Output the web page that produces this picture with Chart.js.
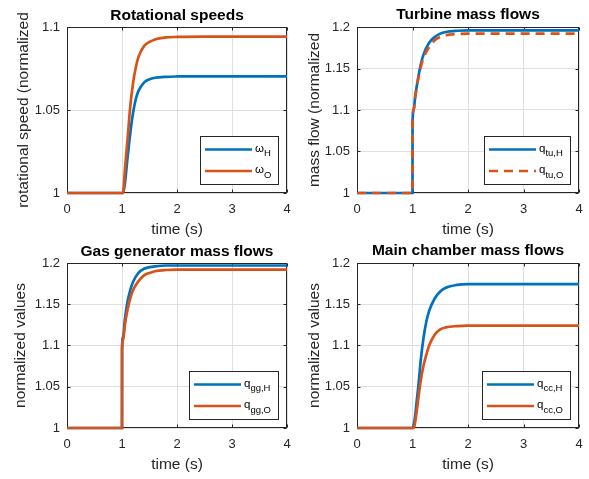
<!DOCTYPE html>
<html><head><meta charset="utf-8">
<script src="https://cdn.jsdelivr.net/npm/chart.js@4"></script>
<style>
html,body{margin:0;padding:0;background:#fff;}
#fig{position:relative;width:589px;height:479px;background:#fff;overflow:hidden}
canvas{position:absolute}
</style></head><body><div id="fig">
<canvas id="c1" width="295" height="240" style="left:0;top:0"></canvas>
<canvas id="c2" width="294" height="240" style="left:295px;top:0"></canvas>
<canvas id="c3" width="295" height="239" style="left:0;top:240px"></canvas>
<canvas id="c4" width="294" height="239" style="left:295px;top:240px"></canvas>
</div>
<script>
// ---------- data ----------
const xTicks = [0, 1, 2, 3, 4];
const yTicksSpeed = [1, 1.05, 1.1];
const yTicksFlow = [1, 1.05, 1.1, 1.15, 1.2];

const tSpeed = [0, 1, 1.02, 1.05, 1.1, 1.15, 1.2, 1.25, 1.3, 1.4, 1.5, 1.6, 1.8, 2, 2.5, 3, 4];
const omegaH = [1, 1, 1.0, 1.005, 1.021, 1.036, 1.048, 1.0565, 1.0615, 1.0665, 1.0685, 1.0694, 1.0700, 1.0702, 1.0703, 1.0703, 1.0703];
const omegaO = [1, 1, 1.0, 1.013, 1.032, 1.052, 1.066, 1.0755, 1.082, 1.0885, 1.091, 1.0925, 1.0937, 1.094, 1.0942, 1.0942, 1.0942];

const tTurb = [0, 1, 1.001, 1.02, 1.05, 1.1, 1.15, 1.2, 1.3, 1.4, 1.5, 1.6, 1.8, 2, 3, 4];
const qTuH = [1, 1, 1.085, 1.1, 1.117, 1.138, 1.155, 1.167, 1.181, 1.188, 1.192, 1.194, 1.1955, 1.196, 1.196, 1.196];
const qTuO = [1, 1, 1.085, 1.1, 1.116, 1.136, 1.152, 1.163, 1.176, 1.184, 1.188, 1.190, 1.1915, 1.192, 1.192, 1.192];

const tGg = [0, 1, 1.001, 1.02, 1.05, 1.1, 1.15, 1.2, 1.3, 1.4, 1.5, 1.6, 1.8, 2, 3, 4];
const qGgH = [1, 1, 1.097, 1.11, 1.13, 1.153, 1.167, 1.177, 1.188, 1.193, 1.195, 1.196, 1.197, 1.197, 1.197, 1.197];
const qGgO = [1, 1, 1.095, 1.106, 1.124, 1.143, 1.157, 1.167, 1.178, 1.185, 1.188, 1.190, 1.1915, 1.192, 1.192, 1.192];

const tCc = [0, 1, 1.025, 1.05, 1.075, 1.1, 1.15, 1.2, 1.25, 1.3, 1.4, 1.5, 1.6, 1.8, 2, 3, 4];
const qCcH = [1, 1, 1.005, 1.016, 1.032, 1.047, 1.083, 1.11, 1.129, 1.142, 1.157, 1.1655, 1.170, 1.1735, 1.1745, 1.1745, 1.1745];
const qCcO = [1, 1, 1.0, 1.008, 1.02, 1.033, 1.058, 1.076, 1.089, 1.100, 1.113, 1.1195, 1.122, 1.1235, 1.124, 1.124, 1.124];

const titles = ['Rotational speeds', 'Turbine mass flows', 'Gas generator mass flows', 'Main chamber mass flows'];
const yLabels = ['rotational speed (normalized', 'mass flow (normalized', 'normalized values', 'normalized values'];
const xLabel = 'time (s)';
const seriesNames = [['ω_H', 'ω_O'], ['q_tu,H', 'q_tu,O'], ['q_gg,H', 'q_gg,O'], ['q_cc,H', 'q_cc,O']];

// ---------- style ----------
const BLUE = '#0072BD', ORANGE = '#D95319', AXC = '#262626';
const FONT = '"Liberation Sans", Arial, Helvetica, sans-serif';

const pts = (t, v) => t.map((x, i) => ({x: x, y: v[i]}));

const boxPlugin = {
  id: 'mbox',
  beforeDatasetsDraw(chart) {
    const {ctx, chartArea: ca, scales: {x, y}} = chart;
    ctx.save();
    ctx.strokeStyle = AXC; ctx.lineWidth = 1;
    const L = Math.round(ca.left) + 0.5, R = Math.round(ca.right) - 0.5;
    const T = Math.round(ca.top) + 0.5, B = Math.round(ca.bottom) - 0.5;
    ctx.strokeRect(L, T, R - L, B - T);
    ctx.beginPath();
    x.ticks.forEach(tk => {
      const p = Math.round(x.getPixelForValue(tk.value)) + 0.5;
      ctx.moveTo(p, B); ctx.lineTo(p, B - 3);
      ctx.moveTo(p, T); ctx.lineTo(p, T + 3);
    });
    y.ticks.forEach(tk => {
      const p = Math.round(y.getPixelForValue(tk.value)) + 0.5;
      ctx.moveTo(L, p); ctx.lineTo(L + 3, p);
      ctx.moveTo(R, p); ctx.lineTo(R - 3, p);
    });
    ctx.stroke();
    ctx.restore();
  },
  afterDraw(chart, args, opts) {
    const {ctx, chartArea: ca} = chart;
    ctx.save();
    // title
    ctx.font = 'bold 15.5px ' + FONT;
    ctx.fillStyle = '#000'; ctx.textAlign = 'center'; ctx.textBaseline = 'middle';
    ctx.fillText(opts.title, (ca.left + ca.right) / 2, opts.titleY);
    // legend
    const mainFont = '11.5px ' + FONT, subFont = '9.5px ' + FONT;
    const items = chart.data.datasets.map(d => {
      const parts = d.label.split('_');
      return {d: d, main: parts[0], sub: parts[1] || ''};
    });
    let maxW = 0;
    items.forEach(it => {
      ctx.font = mainFont; let w = ctx.measureText(it.main).width;
      ctx.font = subFont; w += ctx.measureText(it.sub).width;
      maxW = Math.max(maxW, w);
    });
    const lineLen = 47, w = Math.round(5 + lineLen + 3 + maxW + 7), h = 48;
    const x0 = Math.round(ca.right - 9 - w), y0 = Math.round(ca.bottom - 9 - h);
    ctx.fillStyle = '#fff'; ctx.fillRect(x0, y0, w, h);
    ctx.strokeStyle = AXC; ctx.lineWidth = 1;
    ctx.strokeRect(x0 + 0.5, y0 + 0.5, w, h);
    items.forEach((it, i) => {
      const yy = y0 + 13.5 + i * 21.5;
      ctx.beginPath();
      ctx.setLineDash(it.d.borderDash || []);
      ctx.strokeStyle = it.d.borderColor; ctx.lineWidth = it.d.borderWidth;
      ctx.moveTo(x0 + 5, yy); ctx.lineTo(x0 + 5 + lineLen, yy); ctx.stroke();
      ctx.setLineDash([]);
      ctx.fillStyle = '#000'; ctx.textAlign = 'left'; ctx.textBaseline = 'middle';
      const tx = x0 + 5 + lineLen + 3;
      ctx.font = mainFont; ctx.fillText(it.main, tx, yy - 1);
      const mw = ctx.measureText(it.main).width;
      ctx.font = subFont; ctx.fillText(it.sub, tx + mw, yy + 4);
    });
    ctx.restore();
  }
};

function makeChart(id, cfg) {
  const datasets = cfg.series.map((s, i) => ({
    label: s.name,
    data: pts(s.t, s.v),
    borderColor: s.color,
    borderWidth: 2.7,
    borderDash: s.dash || [],
    pointRadius: 0,
    fill: false,
    cubicInterpolationMode: 'monotone',
    clip: false,
    order: cfg.series.length - i
  }));
  return new Chart(document.getElementById(id), {
    type: 'line',
    data: {datasets: datasets},
    plugins: [boxPlugin],
    options: {
      responsive: false, animation: false, devicePixelRatio: 1,
      layout: {padding: {top: cfg.padTop, right: cfg.padRight, left: 0, bottom: 0}},
      plugins: {legend: {display: false}, tooltip: {enabled: false},
        mbox: {title: cfg.title, titleY: cfg.titleY}},
      scales: {
        x: {
          type: 'linear', min: 0, max: 4,
          afterBuildTicks: sc => { sc.ticks = xTicks.map(v => ({value: v})); },
          afterFit: sc => { sc.height = cfg.xAxisH; },
          ticks: {color: AXC, font: {family: FONT, size: 13}, padding: 0, maxRotation: 0,
            callback: v => String(v)},
          grid: {color: '#dfdfdf', lineWidth: 1, drawTicks: true, tickLength: 9,
            tickColor: 'rgba(0,0,0,0)'},
          border: {display: false},
          title: {display: true, text: xLabel, color: AXC, font: {family: FONT, size: 15.5},
            padding: {top: 0, bottom: cfg.xLabelPad}}
        },
        y: {
          type: 'linear', min: 1, max: cfg.yMax,
          afterBuildTicks: sc => { sc.ticks = cfg.yTicks.map(v => ({value: v})); },
          afterFit: sc => { sc.width = cfg.yAxisW; },
          ticks: {color: AXC, font: {family: FONT, size: 13}, padding: 7,
            callback: v => String(Math.round(v * 100) / 100)},
          grid: {color: '#dfdfdf', lineWidth: 1, drawTicks: false},
          border: {display: false},
          title: {display: true, text: cfg.yLabel, color: AXC, font: {family: FONT, size: 15.5},
            padding: {top: cfg.yLabelPad, bottom: 0}}
        }
      }
    }
  });
}

makeChart('c1', {
  title: titles[0], titleY: 16, yLabel: yLabels[0], yMax: 1.1, yTicks: yTicksSpeed,
  padTop: 27, padRight: 8, yAxisW: 67, xAxisH: 47, xLabelPad: 1, yLabelPad: 14,
  series: [
    {name: seriesNames[0][0], t: tSpeed, v: omegaH, color: BLUE},
    {name: seriesNames[0][1], t: tSpeed, v: omegaO, color: ORANGE}
  ]
});
makeChart('c2', {
  title: titles[1], titleY: 15, yLabel: yLabels[1], yMax: 1.2, yTicks: yTicksFlow,
  padTop: 27, padRight: 10, yAxisW: 62, xAxisH: 47, xLabelPad: 1, yLabelPad: 10,
  series: [
    {name: seriesNames[1][0], t: tTurb, v: qTuH, color: BLUE},
    {name: seriesNames[1][1], t: tTurb, v: qTuO, color: ORANGE, dash: [9, 6]}
  ]
});
makeChart('c3', {
  title: titles[2], titleY: 12, yLabel: yLabels[2], yMax: 1.2, yTicks: yTicksFlow,
  padTop: 23, padRight: 8, yAxisW: 67, xAxisH: 51, xLabelPad: 5, yLabelPad: 11,
  series: [
    {name: seriesNames[2][0], t: tGg, v: qGgH, color: BLUE},
    {name: seriesNames[2][1], t: tGg, v: qGgO, color: ORANGE}
  ]
});
makeChart('c4', {
  title: titles[3], titleY: 11, yLabel: yLabels[3], yMax: 1.2, yTicks: yTicksFlow,
  padTop: 23, padRight: 10, yAxisW: 62, xAxisH: 51, xLabelPad: 5, yLabelPad: 10,
  series: [
    {name: seriesNames[3][0], t: tCc, v: qCcH, color: BLUE},
    {name: seriesNames[3][1], t: tCc, v: qCcO, color: ORANGE}
  ]
});
</script>
</body></html>
